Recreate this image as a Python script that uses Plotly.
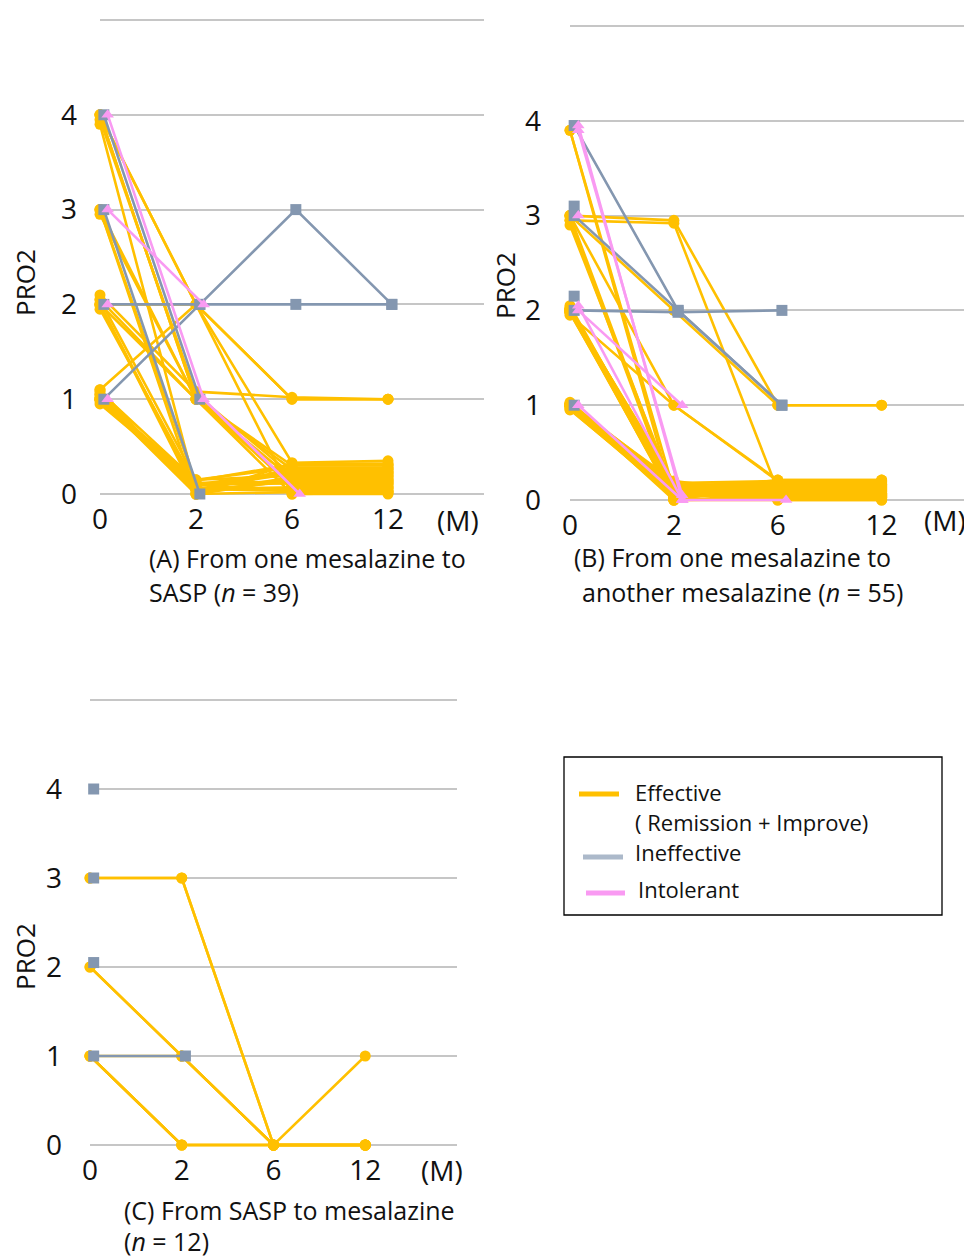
import plotly.graph_objects as go

# ---------------- data ----------------
MONTHS = ["0", "2", "6", "12"]
Y_TICKS = [0, 1, 2, 3, 4, 5]
Y_TICK_TEXT = ["0", "1", "2", "3", "4", ""]

# Panel A: From one mesalazine to SASP (n = 39) -- PRO2 at 0, 2, 6, 12 months
A_EFFECTIVE = [
    [4.00, 1.00, 0.10, 0.10],
    [3.95, 1.05, 0.20, 0.20],
    [4.00, 2.00, 1.00, 1.00],
    [3.90, 0.05, 0.04, 0.04],
    [4.00, 1.00, 0.00, 0.00],
    [4.00, 2.00, 0.33, 0.35],
    [3.00, 1.00, 0.30, 0.30],
    [3.00, 0.10, 0.12, 0.12],
    [2.95, 1.00, 0.16, 0.16],
    [3.00, 0.00, 0.02, 0.02],
    [2.05, 1.00, 0.26, 0.26],
    [2.00, 0.05, 0.06, 0.06],
    [2.00, 1.00, 0.08, 0.08],
    [1.95, 0.10, 0.14, 0.14],
    [2.10, 1.08, 1.02, 1.00],
    [2.00, 2.00, 0.00, 0.01],
    [1.10, 2.00, 1.00, 1.00],
    [1.00, 0.00, 0.18, 0.18],
    [1.05, 0.05, 0.22, 0.22],
    [0.95, 0.10, 0.24, 0.24],
    [1.00, 0.15, 0.28, 0.28],
    [1.10, 0.00, 0.32, 0.32],
    [1.00, 0.10, 0.03, 0.03],
    [0.98, 0.05, 0.07, 0.07],
    [1.02, 0.12, 0.11, 0.11],
    [2.00, 0.00, 0.15, 0.15],
    [2.05, 0.15, 0.19, 0.19],
    [1.00, 0.08, 0.23, 0.23],
    [1.05, 0.02, 0.27, 0.27],
    [1.08, 0.14, 0.31, 0.31],
    [1.00, 0.04, 0.13, 0.13],
]
A_INEFFECTIVE = [
    [4.00, 1.00, None, None],
    [3.00, 0.00, None, None],
    [2.00, 2.00, 2.00, 2.00],
    [1.00, 2.00, 3.00, 2.00],
]
A_INTOLERANT = [
    [4.00, 1.00, 0.00, None],
    [3.00, 2.00, None, None],
    [2.00, None, None, None],
    [1.00, None, None, None],
]

# Panel B: From one mesalazine to another mesalazine (n = 55)
B_EFFECTIVE = [
    [3.90, 0.00, 0.00, 0.00],
    [3.90, 0.10, 0.10, 0.10],
    [3.00, 2.95, 1.00, 1.00],
    [2.95, 2.92, 0.10, 0.10],
    [3.00, 2.00, 1.00, 1.00],
    [3.00, 1.00, 0.20, 0.20],
    [2.95, 0.00, 0.05, 0.05],
    [3.00, 0.05, 0.15, 0.15],
    [2.90, 0.10, 0.00, 0.00],
    [2.00, 0.00, 0.01, 0.01],
    [2.05, 0.10, 0.11, 0.11],
    [1.95, 1.00, 0.21, 0.21],
    [2.00, 0.05, 0.04, 0.04],
    [2.00, 0.15, 0.14, 0.14],
    [1.98, 0.02, 0.12, 0.12],
    [2.02, 0.08, 0.18, 0.18],
    [2.00, 0.12, 0.08, 0.08],
    [1.00, 0.00, 0.02, 0.02],
    [0.95, 0.05, 0.06, 0.06],
    [1.00, 0.10, 0.09, 0.09],
    [1.00, 0.15, 0.19, 0.19],
    [0.98, 0.02, 0.16, 0.16],
    [1.02, 0.18, 0.13, 0.13],
    [1.00, 0.08, 0.03, 0.03],
    [0.97, 0.12, 0.17, 0.17],
    [1.00, 0.20, 0.07, 0.07],
    [2.00, 0.18, 0.20, 0.20],
    [1.00, 0.04, 0.15, 0.15],
    [2.00, 0.06, 0.03, 0.03],
    [1.00, 0.14, 0.06, 0.06],
    [1.00, 0.16, 0.14, 0.14],
    [0.96, 0.03, 0.09, 0.09],
    [1.03, 0.11, 0.04, 0.04],
    [2.03, 0.13, 0.17, 0.17],
    [1.97, 0.07, 0.11, 0.11],
    [2.00, 0.19, 0.07, 0.07],
    [1.00, 0.06, 0.19, 0.19],
    [0.99, 0.17, 0.01, 0.01],
    [2.01, 0.01, 0.13, 0.13],
    [1.01, 0.09, 0.21, 0.21],
    [2.00, 0.03, 0.16, 0.16],
    [1.00, 0.13, 0.05, 0.05],
    [1.98, 0.16, 0.12, 0.12],
]
B_INEFFECTIVE = [
    [3.95, 2.00, 1.00, None],
    [3.00, 2.00, 1.00, None],
    [2.00, 1.98, 2.00, None],
    [2.15, None, None, None],
    [3.10, None, None, None],
    [1.00, None, None, None],
]
B_INTOLERANT = [
    [3.95, 0.00, 0.00, None],
    [3.90, 0.05, None, None],
    [3.00, None, None, None],
    [2.00, 1.00, None, None],
    [2.05, 0.00, None, None],
    [1.00, 0.00, None, None],
]

# Panel C: From SASP to mesalazine (n = 12)
C_EFFECTIVE = [
    [3.00, 3.00, 0.00, 1.00],
    [3.00, 3.00, 0.00, 0.00],
    [2.00, 1.00, 0.00, 0.00],
    [1.00, 0.00, 0.00, 0.00],
    [1.00, 0.00, 0.00, 0.00],
    [1.00, 1.00, 0.00, 0.00],
    [1.00, 0.00, 0.00, 0.00],
    [2.00, 1.00, 0.00, 0.00],
]
C_INEFFECTIVE = [
    [4.00, None, None, None],
    [3.00, None, None, None],
    [2.05, None, None, None],
    [1.00, 1.00, None, None],
]
C_INTOLERANT = []

GROUP_NAMES = ["Effective", "Ineffective", "Intolerant"]

# ---------------- style ----------------
FONT = "Open Sans"
COLORS = {"Effective": "#FFC000", "Ineffective": "#8497B0", "Intolerant": "#F99AF2"}
SYMBOLS = {"Effective": "circle", "Ineffective": "square", "Intolerant": "triangle-up"}
X_SHIFT = {"Effective": 0.0, "Ineffective": 0.04, "Intolerant": 0.08}
GRID = "#C6C6C6"
YPAD = 0.03

# the page body has an 8px margin, so the figure is 8px smaller than the window
OFF = 8
W, H = 972 - OFF, 1257 - OFF


def px(x):
    return (x - OFF) / W


def py(y):
    return 1 - (y - OFF) / H


def ydomain(p0, p5):
    per = (p0 - p5) / 5.0
    return [py(p0 + YPAD * per), py(p5 - YPAD * per)]


fig = go.Figure()


def add_group(series, name, xa, ya):
    xs, ys = [], []
    for traj in series:
        for i, v in enumerate(traj):
            if v is None:
                continue
            xs.append(i + X_SHIFT[name])
            ys.append(v)
        xs.append(None)
        ys.append(None)
    if not xs:
        return
    fig.add_trace(go.Scatter(
        x=xs, y=ys, mode="lines+markers", name=name, showlegend=False,
        xaxis=xa, yaxis=ya, cliponaxis=False, connectgaps=False,
        line=dict(color=COLORS[name], width=2.6),
        marker=dict(symbol=SYMBOLS[name], size=11, color=COLORS[name]),
        hoverinfo="skip",
    ))


panels = [
    ("x", "y", [A_EFFECTIVE, A_INEFFECTIVE, A_INTOLERANT]),
    ("x2", "y2", [B_EFFECTIVE, B_INEFFECTIVE, B_INTOLERANT]),
    ("x3", "y3", [C_EFFECTIVE, C_INEFFECTIVE, C_INTOLERANT]),
]
for xa, ya, groups in panels:
    for name, series in zip(GROUP_NAMES, groups):
        add_group(series, name, xa, ya)

tick_font = dict(family=FONT, size=28, color="#111111")


def xaxis_cfg(domain, rng, anchor):
    return dict(domain=domain, range=rng, anchor=anchor, tickvals=[0, 1, 2, 3],
                ticktext=MONTHS, showgrid=False, zeroline=False, showline=False,
                ticks="", tickfont=tick_font, fixedrange=True, ticklabelstandoff=3,
                automargin=False)


def yaxis_cfg(domain, anchor, standoff):
    return dict(domain=domain, range=[-YPAD, 5 + YPAD], anchor=anchor, tickvals=Y_TICKS,
                ticktext=Y_TICK_TEXT, showgrid=True, gridcolor=GRID, gridwidth=2,
                zeroline=False, showline=False, ticks="", tickfont=tick_font,
                fixedrange=True, ticklabelstandoff=standoff, automargin=False)


fig.update_layout(
    width=W, height=H,
    margin=dict(l=0, r=0, t=0, b=0, autoexpand=False),
    paper_bgcolor="white", plot_bgcolor="white",
    font=dict(family=FONT, color="#111111"),
    xaxis=xaxis_cfg([px(100), px(484)], [0, 4.0], "y"),
    yaxis=yaxis_cfg(ydomain(494, 20), "x", 22),
    xaxis2=xaxis_cfg([px(570), 1.0], [0, 3.87], "y2"),
    yaxis2=yaxis_cfg(ydomain(500, 26), "x2", 28),
    xaxis3=xaxis_cfg([px(90), px(457)], [0, 4.0], "y3"),
    yaxis3=yaxis_cfg(ydomain(1145, 700), "x3", 27),
)

ann = []


def text(x, y, s, size, xanchor="center", angle=0):
    ann.append(dict(x=px(x), y=py(y), xref="paper", yref="paper", text=s,
                    showarrow=False, xanchor=xanchor, yanchor="middle",
                    textangle=angle, font=dict(family=FONT, size=size, color="#111111")))


# axis titles
text(25, 283, "PRO2", 26, angle=-90)
text(505, 285, "PRO2", 26, angle=-90)
text(25, 957, "PRO2", 26, angle=-90)
# unit labels
text(458, 520, "(M)", 28)
text(945, 520, "(M)", 28)
text(442, 1170, "(M)", 28)
# captions
text(147, 558, "(A) From one mesalazine to", 25, "left")
text(147, 592, "SASP (<i>n</i> = 39)", 25, "left")
text(572, 557, "(B) From one mesalazine to", 25, "left")
text(580, 592, "another mesalazine (<i>n</i> = 55)", 25, "left")
text(122, 1210, "(C) From SASP to mesalazine", 25, "left")
text(122, 1241, "(<i>n</i> = 12)", 25, "left")
# legend texts
text(633, 792, "Effective", 22, "left")
text(633, 822, "( Remission + Improve)", 22, "left")
text(633, 852, "Ineffective", 22, "left")
text(636, 889, "Intolerant", 22, "left")

shapes = [
    dict(type="rect", xref="paper", yref="paper", x0=px(564), x1=px(942),
         y0=py(915), y1=py(757), line=dict(color="black", width=1.3), fillcolor="rgba(0,0,0,0)"),
    dict(type="line", xref="paper", yref="paper", x0=px(579), x1=px(619), y0=py(794), y1=py(794),
         line=dict(color=COLORS["Effective"], width=5)),
    dict(type="line", xref="paper", yref="paper", x0=px(583), x1=px(623), y0=py(857), y1=py(857),
         line=dict(color="#ACB9CA", width=5)),
    dict(type="line", xref="paper", yref="paper", x0=px(586), x1=px(625), y0=py(893), y1=py(893),
         line=dict(color=COLORS["Intolerant"], width=5)),
]

fig.update_layout(annotations=ann, shapes=shapes)
fig.write_html("out.html")
